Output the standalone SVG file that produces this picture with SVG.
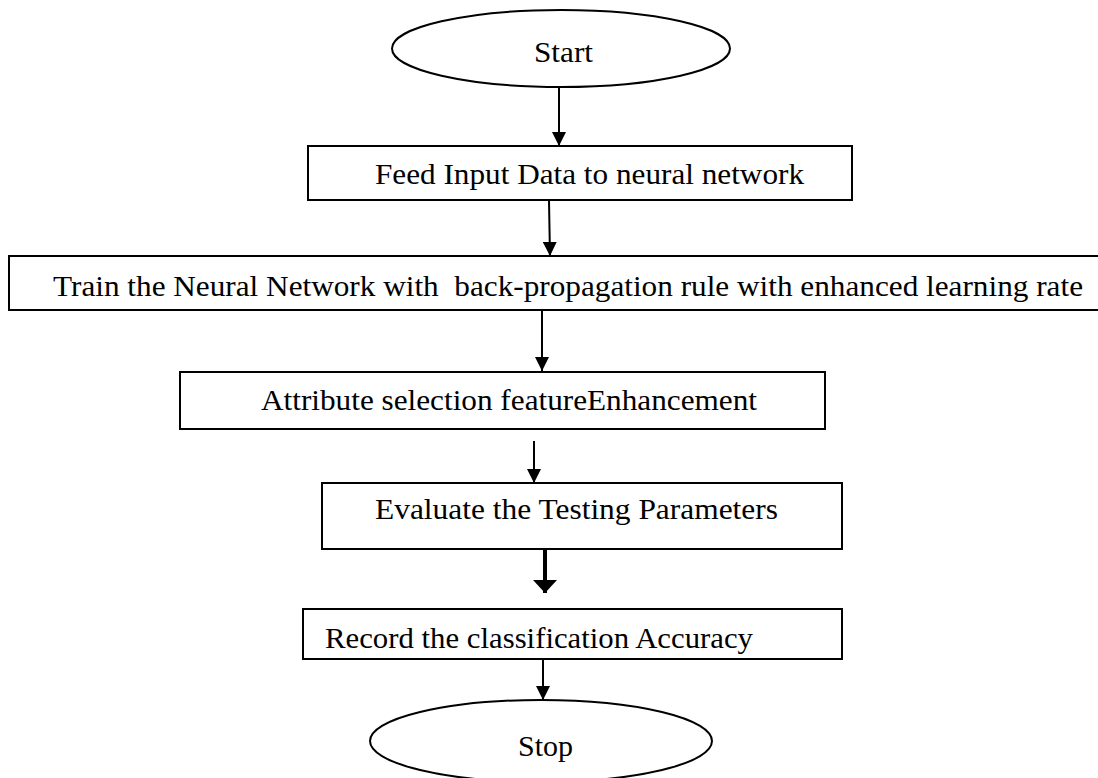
<svg xmlns="http://www.w3.org/2000/svg" width="1098" height="778" viewBox="0 0 1098 778">
  <style>
    .box { fill: #ffffff; stroke: #000000; stroke-width: 2; }
    .term { fill: #ffffff; stroke: #000000; stroke-width: 2; }
    .lbl { font-family: "Liberation Serif", "DejaVu Serif", serif; font-size: 29px; fill: #000000; }
    .conn { stroke: #000000; stroke-width: 2; fill: none; }
    .conn-thick { stroke: #000000; stroke-width: 4; fill: none; }
  </style>
  <defs>
    <marker id="arrow" markerUnits="userSpaceOnUse" markerWidth="14" markerHeight="14" refX="14" refY="7" orient="auto">
      <path d="M0,0 L14,7 L0,14 z" fill="#000000"/>
    </marker>
    <marker id="arrowThick" markerUnits="userSpaceOnUse" markerWidth="13" markerHeight="24" refX="13" refY="12" orient="auto">
      <path d="M0,0 L13,12 L0,24 z" fill="#000000"/>
    </marker>
  </defs>
  <rect width="1098" height="778" fill="#ffffff"/>

  <g id="connectors">
    <line class="conn" x1="559" y1="88" x2="559" y2="146" marker-end="url(#arrow)"/>
    <line class="conn" x1="549" y1="201" x2="550" y2="256" marker-end="url(#arrow)"/>
    <line class="conn" x1="542" y1="311" x2="542" y2="371" marker-end="url(#arrow)"/>
    <line class="conn" x1="534" y1="441" x2="534" y2="483" marker-end="url(#arrow)"/>
    <line class="conn-thick" x1="545" y1="550" x2="545" y2="593" marker-end="url(#arrowThick)"/>
    <line class="conn" x1="543" y1="660" x2="543" y2="700" marker-end="url(#arrow)"/>
  </g>

  <g id="start">
    <ellipse class="term" cx="561" cy="48.5" rx="169" ry="38.5"/>
    <text class="lbl" x="534" y="62" textLength="59" lengthAdjust="spacingAndGlyphs">Start</text>
  </g>

  <g id="feed">
    <rect class="box" x="308" y="146" width="544" height="54"/>
    <text class="lbl" x="375" y="184" textLength="429" lengthAdjust="spacingAndGlyphs">Feed Input Data to neural network</text>
  </g>

  <g id="train">
    <rect class="box" x="9" y="256" width="1100" height="54"/>
    <text class="lbl" x="53" y="296" textLength="1030" lengthAdjust="spacingAndGlyphs" xml:space="preserve">Train the Neural Network with  back-propagation rule with enhanced learning rate</text>
  </g>

  <g id="attribute">
    <rect class="box" x="180" y="372" width="645" height="57"/>
    <text class="lbl" x="261" y="410" textLength="496" lengthAdjust="spacingAndGlyphs">Attribute selection featureEnhancement</text>
  </g>

  <g id="evaluate">
    <rect class="box" x="322" y="483" width="520" height="66"/>
    <text class="lbl" x="375" y="519" textLength="403" lengthAdjust="spacingAndGlyphs">Evaluate the Testing Parameters</text>
  </g>

  <g id="record">
    <rect class="box" x="303" y="609" width="539" height="50"/>
    <text class="lbl" x="325" y="648" textLength="428" lengthAdjust="spacingAndGlyphs">Record the classification Accuracy</text>
  </g>

  <g id="stop">
    <ellipse class="term" cx="541" cy="741" rx="171" ry="41"/>
    <text class="lbl" x="518" y="756" textLength="55" lengthAdjust="spacingAndGlyphs">Stop</text>
  </g>
</svg>
